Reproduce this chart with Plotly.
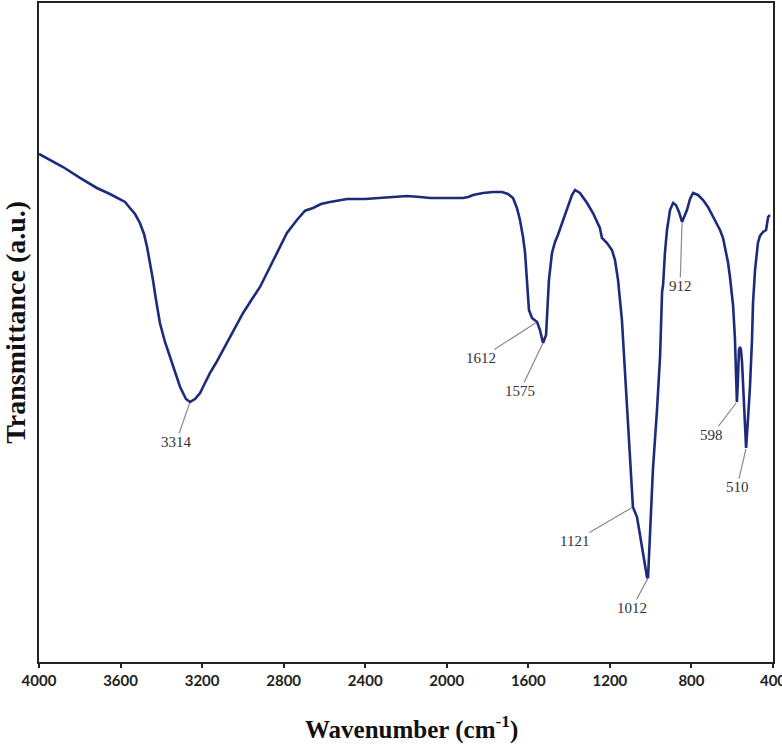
import numpy as np
import plotly.graph_objects as go

# FTIR spectrum
wavenumber = [4000, 3946, 3882, 3799, 3716, 3652, 3617, 3578, 3554, 3529, 3505, 3485, 3470, 3456,
              3441, 3426, 3407, 3382, 3358, 3333, 3308, 3279, 3259, 3235, 3210, 3186, 3161, 3132,
              3098, 3049, 2999, 2955, 2916, 2877, 2833, 2784, 2735, 2695, 2656, 2617, 2573, 2489,
              2401, 2328, 2254, 2195, 2131, 2082, 2009, 1920, 1895, 1871, 1822, 1773, 1729, 1700,
              1675, 1656, 1641, 1626, 1616, 1607, 1597, 1582, 1557, 1543, 1528, 1513, 1508, 1499,
              1484, 1469, 1455, 1430, 1410, 1386, 1371, 1347, 1312, 1283, 1249, 1239, 1214, 1190,
              1175, 1160, 1141, 1126, 1111, 1092, 1087, 1067, 1043, 1028, 1018, 1013, 1003, 989,
              969, 954, 944, 939, 930, 920, 905, 890, 876, 861, 846, 832, 822, 807, 792, 768,
              743, 719, 694, 675, 660, 645, 635, 621, 611, 596, 587, 582, 577, 572, 567, 562,
              557, 552, 542, 532, 523, 513, 503, 498, 488, 474, 464, 449, 434, 429, 424, 415]
transmittance = [77.09, 76.18, 75.11, 73.45, 71.93, 71.02, 70.41, 69.81, 68.89, 67.98, 66.62, 64.95,
                 62.98, 60.70, 57.97, 54.93, 51.44, 48.56, 46.28, 43.86, 41.73, 39.91, 39.46, 39.91,
                 40.82, 42.34, 43.86, 45.37, 47.35, 50.08, 52.96, 55.08, 56.91, 59.33, 62.07, 65.10,
                 67.07, 68.48, 68.89, 69.50, 69.81, 70.26, 70.26, 70.41, 70.56, 70.72, 70.56, 70.41,
                 70.41, 70.41, 70.56, 70.87, 71.17, 71.32, 71.32, 71.02, 70.41, 68.89, 67.07, 64.49,
                 62.07, 57.97, 53.42, 52.20, 51.60, 50.38, 48.41, 49.62, 52.35, 57.97, 62.07, 63.74,
                 64.80, 67.07, 68.59, 70.87, 71.63, 71.17, 69.65, 68.13, 65.86, 64.35, 63.58, 62.52,
                 61.00, 57.97, 51.90, 44.31, 35.21, 26.56, 23.52, 22.00, 17.45, 14.72, 12.90, 12.75,
                 18.97, 29.14, 38.24, 46.28, 56.15, 57.21, 62.07, 65.56, 68.59, 69.65, 69.34, 68.29,
                 66.77, 67.83, 68.59, 70.26, 71.17, 70.87, 70.11, 69.05, 67.53, 66.31, 65.56, 64.34,
                 62.98, 60.70, 58.42, 54.17, 49.32, 43.55, 39.46, 42.79, 47.35, 47.80, 47.35, 45.53,
                 39.76, 32.47, 36.72, 41.73, 48.86, 54.48, 59.49, 63.58, 64.65, 65.25, 65.56, 66.31,
                 67.53, 67.83]

# peak labels and where they point on the drawn curve
peak_labels = ["3314", "1612", "1575", "1121", "1012", "912", "598", "510"]
peak_positions = [3259, 1557, 1528, 1087, 1013, 846, 577, 532]

# x tick labels
tick_values = [4000, 3600, 3200, 2800, 2400, 2000, 1600, 1200, 800, 400]
tick_labels = ["4000", "3600", "3200", "2800", "2400", "2000", "1600", "1200", "800", "400"]

# label offsets (pixels) from each peak point
label_offsets = [(-14, 40), (-56, 36), (-23, 48), (-58, 34), (-16, 30), (-2, 64), (-25, 33), (-9, 39)]

fig = go.Figure()
fig.add_trace(go.Scatter(x=wavenumber, y=transmittance, mode="lines",
                         line=dict(color="#1d2b7b", width=2.6), showlegend=False,
                         hoverinfo="skip"))

wn_arr = np.array(wavenumber)[::-1]
t_arr = np.array(transmittance)[::-1]
for lab, pos, (ax, ay) in zip(peak_labels, peak_positions, label_offsets):
    yv = float(np.interp(pos, wn_arr, t_arr))
    fig.add_annotation(x=pos, y=yv, text=lab, showarrow=True, arrowhead=0,
                       arrowwidth=1.2, arrowcolor="#8a8a8a", ax=ax, ay=ay,
                       standoff=1, borderpad=0,
                       font=dict(family="Liberation Serif", size=15, color="#333333"))

# axis titles as annotations for precise placement
fig.add_annotation(text="<b>Wavenumber (cm<sup>-1</sup>)</b>", xref="paper", yref="paper",
                   x=0.507, y=-0.128, xanchor="center", yanchor="bottom", showarrow=False,
                   font=dict(family="Liberation Serif", size=25, color="#111111"))
fig.add_annotation(text="<b>Transmittance (a.u.)</b>", xref="paper", yref="paper",
                   x=-0.0325, y=0.515, xanchor="center", yanchor="middle", showarrow=False,
                   textangle=-90,
                   font=dict(family="Liberation Serif", size=28, color="#111111"))

fig.update_layout(
    width=782, height=749,
    margin=dict(l=39, r=9, t=3, b=87, autoexpand=False),
    paper_bgcolor="white", plot_bgcolor="white",
    xaxis=dict(range=[4000, 400], tickvals=tick_values, ticktext=tick_labels,
               ticks="outside", ticklen=4, tickwidth=2, tickcolor="#222222",
               showline=True, linecolor="#222222", linewidth=2, mirror=True,
               showgrid=False, zeroline=False, automargin=False,
               ticklabeloverflow="allow",
               tickfont=dict(family="Lato", size=15, color="#222222", weight="bold")),
    yaxis=dict(range=[0, 100], showticklabels=False, ticks="",
               showline=True, linecolor="#222222", linewidth=2, mirror=True,
               showgrid=False, zeroline=False, automargin=False),
)

fig.write_html("out.html", config={"displayModeBar": False},
               post_script="document.body.style.margin='0px';")
